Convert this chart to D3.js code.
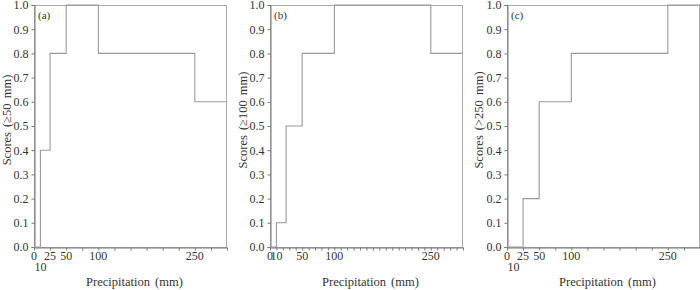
<!DOCTYPE html>
<html>
<head>
<meta charset="utf-8">
<script src="https://cdn.jsdelivr.net/npm/d3@7"></script>
<style>
body { margin: 0; background: #fff; }
svg text { font-family: "Liberation Serif", "Times New Roman", serif !important; fill: #333; }
.axis path, .axis line { stroke: #777; }
</style>
</head>
<body>
<svg id="chart" width="700" height="290"></svg>
<script>
// precipitation thresholds (mm) and scores for each panel
let precipA = [0, 10, 25, 50, 100, 250, 300];
let scoresA = [0, 0.4, 0.8, 1.0, 0.8, 0.6, 0.6];

let precipB = [0, 10, 25, 50, 100, 250, 300];
let scoresB = [0, 0.1, 0.5, 0.8, 1.0, 0.8, 0.8];

let precipC = [0, 25, 50, 100, 250, 300];
let scoresC = [0, 0.2, 0.6, 0.8, 1.0, 1.0];

let labelsAC = [0, 25, 50, 100, 250];
let labelsAC2 = [10];
let labelsB = [0, 10, 50, 100, 250];
let yTicks = [0, 0.1, 0.2, 0.3, 0.4, 0.5, 0.6, 0.7, 0.8, 0.9, 1.0];

let panels = [
    {left: 34, tag: "(a)", title: "Scores (\u226550 mm)", x: precipA, y: scoresA, step: 25, labels: labelsAC, labels2: labelsAC2, tx: 7},
    {left: 270, tag: "(b)", title: "Scores (\u2265100 mm)", x: precipB, y: scoresB, step: 10, labels: labelsB, labels2: [], tx: 243},
    {left: 507, tag: "(c)", title: "Scores (>250 mm)", x: precipC, y: scoresC, step: 25, labels: labelsAC, labels2: labelsAC2, tx: 479}
];

let plotTop = 5, plotBottom = 247, w = 193;
let svg = d3.select("#chart");

panels.forEach(p => {
    let xScale = d3.scaleLinear().domain([0, 300]).range([p.left, p.left + w]);
    let yScale = d3.scaleLinear().domain([0, 1]).range([plotBottom, plotTop]);

    let g = svg.append("g");

    // frame
    g.append("rect")
        .attr("x", p.left + 0.5).attr("y", plotTop + 0.5)
        .attr("width", w - 1).attr("height", plotBottom - plotTop)
        .attr("fill", "none").attr("stroke", "#aaa");

    // y axis
    g.append("g")
        .attr("class", "axis")
        .attr("transform", "translate(" + (p.left + 0.5) + ",0)")
        .call(d3.axisLeft(yScale).tickValues(yTicks).tickFormat(d3.format(".1f")).tickSize(3).tickPadding(3))
        .call(a => a.select(".domain").attr("stroke", "#888"))
        .selectAll("text").style("font-size", "12px").attr("fill", "#333");

    // x axis: minor ticks
    let allTicks = d3.range(0, 301, p.step);
    g.append("g")
        .attr("class", "axis")
        .attr("transform", "translate(0," + (plotBottom + 0.5) + ")")
        .call(d3.axisBottom(xScale).tickValues(allTicks).tickFormat("").tickSize(3).tickSizeOuter(0))
        .select(".domain").attr("stroke", "#777");

    // x labels
    g.selectAll(".xl")
        .data(p.labels)
        .enter().append("text")
        .attr("x", d => xScale(d))
        .attr("y", 260)
        .attr("text-anchor", "middle")
        .style("font-size", "12px")
        .text(d => d);

    g.selectAll(".xl2")
        .data(p.labels2)
        .enter().append("text")
        .attr("x", d => xScale(d))
        .attr("y", 271)
        .attr("text-anchor", "middle")
        .style("font-size", "12px")
        .text(d => d);

    // step line
    let pts = p.x.map((d, i) => [d, p.y[i]]);
    g.append("path")
        .datum(pts)
        .attr("fill", "none")
        .attr("stroke", "#999")
        .attr("stroke-width", 1.1)
        .attr("d", d3.line()
            .x(d => xScale(d[0]))
            .y(d => yScale(d[1]))
            .curve(d3.curveStepAfter));

    // panel tag
    g.append("text")
        .attr("x", p.left + 4)
        .attr("y", 19)
        .style("font-size", "11px")
        .text(p.tag);

    // axis titles
    g.append("text")
        .attr("x", p.left + w / 2 + 4)
        .attr("y", 286)
        .attr("text-anchor", "middle")
        .style("font-size", "12.5px")
        .style("word-spacing", "2px")
        .text("Precipitation (mm)");

    g.append("text")
        .attr("transform", "translate(" + (p.tx + 4) + "," + 120 + ") rotate(-90)")
        .attr("text-anchor", "middle")
        .style("font-size", "12.5px")
        .style("word-spacing", "2px")
        .text(p.title);
});
</script>
</body>
</html>
